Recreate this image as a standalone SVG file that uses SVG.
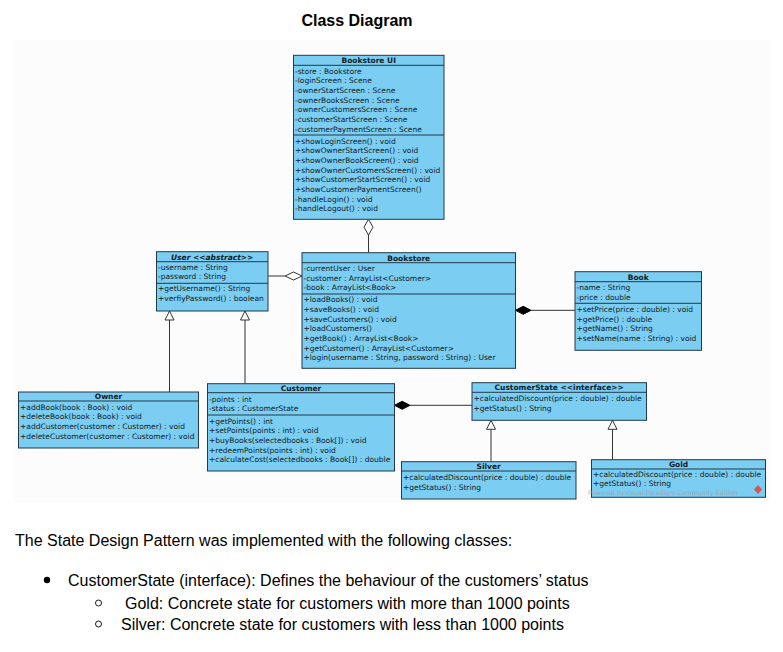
<svg xmlns="http://www.w3.org/2000/svg" width="783" height="652" viewBox="0 0 783 652">
<style>
.box{fill:#7BCDF2;stroke:#23394a;stroke-width:1}
.div{stroke:#23394a;stroke-width:1}
.t{font-family:"DejaVu Sans",sans-serif;font-size:7.5px;fill:#0d1b26}
.h{font-family:"DejaVu Sans",sans-serif;font-size:7.5px;font-weight:bold;fill:#0d1b26;text-anchor:middle}
.ln{stroke:#333;stroke-width:1;fill:none}
.hol{fill:#fff;stroke:#333;stroke-width:1}
.fil{fill:#000;stroke:#000;stroke-width:1}
.p{font-family:"Liberation Sans",Arial,sans-serif;font-size:16px;fill:#000}
</style>
<rect x="0" y="0" width="783" height="652" fill="#fff"/>
<rect x="14" y="40" width="756" height="462" fill="#fcfcfc"/>
<text x="357" y="26" font-family="Liberation Sans,Arial,sans-serif" font-size="16" font-weight="bold" text-anchor="middle">Class Diagram</text>

<g id="connectors">
  <line class="ln" x1="368.5" y1="235" x2="368.5" y2="252.7"/>
  <polygon class="hol" points="368.5,219.3 373,227.2 368.5,235 364,227.2"/>
  <line class="ln" x1="268" y1="276" x2="285" y2="276"/>
  <polygon class="hol" points="285,276 293.5,272 302,276 293.5,280"/>
  <line class="ln" x1="531" y1="310.3" x2="575" y2="310.3"/>
  <polygon class="fil" points="515.5,310.3 523.2,306.3 531,310.3 523.2,314.3"/>
  <line class="ln" x1="169.5" y1="392" x2="169.5" y2="320"/>
  <polygon class="hol" points="169.5,311 174,320 165,320"/>
  <line class="ln" x1="245" y1="383.7" x2="245" y2="320"/>
  <polygon class="hol" points="245,311 249.5,320 240.5,320"/>
  <line class="ln" x1="410" y1="405.3" x2="472" y2="405.3"/>
  <polygon class="fil" points="394.5,405.3 402.2,401.3 410,405.3 402.2,409.3"/>
  <line class="ln" x1="491" y1="461.7" x2="491" y2="429.3"/>
  <polygon class="hol" points="491,420.3 495.5,429.3 486.5,429.3"/>
  <line class="ln" x1="612.5" y1="459.7" x2="612.5" y2="429.3"/>
  <polygon class="hol" points="612.5,420.3 617,429.3 608,429.3"/>
</g>

<g id="bookstore-ui">
  <rect class="box" x="293.5" y="55.3" width="150.5" height="164"/>
  <line class="div" x1="293.5" y1="65.3" x2="444" y2="65.3"/>
  <line class="div" x1="293.5" y1="135" x2="444" y2="135"/>
  <text class="h" x="368.7" y="63">Bookstore UI</text>
  <text class="t" x="295" y="73.7">-store : Bookstore</text>
  <text class="t" x="295" y="83.3">-loginScreen : Scene</text>
  <text class="t" x="295" y="93">-ownerStartScreen : Scene</text>
  <text class="t" x="295" y="102.6">-ownerBooksScreen : Scene</text>
  <text class="t" x="295" y="112.2">-ownerCustomersScreen : Scene</text>
  <text class="t" x="295" y="121.9">-customerStartScreen : Scene</text>
  <text class="t" x="295" y="131.5">-customerPaymentScreen : Scene</text>
  <text class="t" x="295" y="143.7">+showLoginScreen() : void</text>
  <text class="t" x="295" y="153.3">+showOwnerStartScreen() : void</text>
  <text class="t" x="295" y="163">+showOwnerBookScreen() : void</text>
  <text class="t" x="295" y="172.6">+showOwnerCustomersScreen() : void</text>
  <text class="t" x="295" y="182.2">+showCustomerStartScreen() : void</text>
  <text class="t" x="295" y="191.9">+showCustomerPaymentScreen()</text>
  <text class="t" x="295" y="201.5">-handleLogin() : void</text>
  <text class="t" x="295" y="211.1">-handleLogout() : void</text>
</g>

<g id="user">
  <rect class="box" x="156.5" y="251.7" width="111.5" height="59.3"/>
  <line class="div" x1="156.5" y1="261.7" x2="268" y2="261.7"/>
  <line class="div" x1="156.5" y1="283.3" x2="268" y2="283.3"/>
  <text class="h" x="212.2" y="259.5" font-style="italic">User &lt;&lt;abstract&gt;&gt;</text>
  <text class="t" x="158" y="269.7">-username : String</text>
  <text class="t" x="158" y="279.4">-password : String</text>
  <text class="t" x="158" y="291.4">+getUsername() : String</text>
  <text class="t" x="158" y="301">+verfiyPassword() : boolean</text>
</g>

<g id="bookstore">
  <rect class="box" x="302" y="252.7" width="213.5" height="115.6"/>
  <line class="div" x1="302" y1="262.7" x2="515.5" y2="262.7"/>
  <line class="div" x1="302" y1="294" x2="515.5" y2="294"/>
  <text class="h" x="408.7" y="260.5">Bookstore</text>
  <text class="t" x="303.5" y="271">-currentUser : User</text>
  <text class="t" x="303.5" y="280.7">-customer : ArrayList&lt;Customer&gt;</text>
  <text class="t" x="303.5" y="290.3">-book : ArrayList&lt;Book&gt;</text>
  <text class="t" x="303.5" y="302.4">+loadBooks() : void</text>
  <text class="t" x="303.5" y="312">+saveBooks() : void</text>
  <text class="t" x="303.5" y="321.7">+saveCustomers() : void</text>
  <text class="t" x="303.5" y="331.3">+loadCustomers()</text>
  <text class="t" x="303.5" y="340.9">+getBook() : ArrayList&lt;Book&gt;</text>
  <text class="t" x="303.5" y="350.6">+getCustomer() : ArrayList&lt;Customer&gt;</text>
  <text class="t" x="303.5" y="360.2">+login(username : String, password : String) : User</text>
</g>

<g id="book">
  <rect class="box" x="575" y="271.7" width="126.5" height="78.6"/>
  <line class="div" x1="575" y1="281.7" x2="701.5" y2="281.7"/>
  <line class="div" x1="575" y1="303.3" x2="701.5" y2="303.3"/>
  <text class="h" x="638.2" y="279.5">Book</text>
  <text class="t" x="576.5" y="290">-name : String</text>
  <text class="t" x="576.5" y="299.7">-price : double</text>
  <text class="t" x="576.5" y="312">+setPrice(price : double) : void</text>
  <text class="t" x="576.5" y="321.7">+getPrice() : double</text>
  <text class="t" x="576.5" y="331.3">+getName() : String</text>
  <text class="t" x="576.5" y="340.9">+setName(name : String) : void</text>
</g>

<g id="owner">
  <rect class="box" x="18.5" y="392" width="180" height="56"/>
  <line class="div" x1="18.5" y1="401" x2="198.5" y2="401"/>
  <text class="h" x="108.5" y="399.2">Owner</text>
  <text class="t" x="20" y="409.7">+addBook(book : Book) : void</text>
  <text class="t" x="20" y="419.4">+deleteBook(book : Book) : void</text>
  <text class="t" x="20" y="429">+addCustomer(customer : Customer) : void</text>
  <text class="t" x="20" y="438.7">+deleteCustomer(customer : Customer) : void</text>
</g>

<g id="customer">
  <rect class="box" x="207.5" y="383.7" width="187" height="87.3"/>
  <line class="div" x1="207.5" y1="392.7" x2="394.5" y2="392.7"/>
  <line class="div" x1="207.5" y1="415" x2="394.5" y2="415"/>
  <text class="h" x="301" y="390.9">Customer</text>
  <text class="t" x="209" y="401.7">-points : int</text>
  <text class="t" x="209" y="411.4">-status : CustomerState</text>
  <text class="t" x="209" y="423.7">+getPoints() : int</text>
  <text class="t" x="209" y="433.3">+setPoints(points : int) : void</text>
  <text class="t" x="209" y="443">+buyBooks(selectedbooks : Book[]) : void</text>
  <text class="t" x="209" y="452.6">+redeemPoints(points : int) : void</text>
  <text class="t" x="209" y="462.2">+calculateCost(selectedbooks : Book[]) : double</text>
</g>

<g id="customer-state">
  <rect class="box" x="472" y="382.7" width="174.5" height="37.6"/>
  <line class="div" x1="472" y1="392.3" x2="646.5" y2="392.3"/>
  <text class="h" x="559.2" y="390.3">CustomerState &lt;&lt;interface&gt;&gt;</text>
  <text class="t" x="473.5" y="401">+calculatedDiscount(price : double) : double</text>
  <text class="t" x="473.5" y="410.7">+getStatus() : String</text>
</g>

<g id="silver">
  <rect class="box" x="401.5" y="461.7" width="174.5" height="37.3"/>
  <line class="div" x1="401.5" y1="471" x2="576" y2="471"/>
  <text class="h" x="488.7" y="469.2">Silver</text>
  <text class="t" x="403" y="480">+calculatedDiscount(price : double) : double</text>
  <text class="t" x="403" y="489.7">+getStatus() : String</text>
</g>

<g id="gold">
  <rect class="box" x="591.5" y="459.7" width="174" height="37.6"/>
  <line class="div" x1="591.5" y1="469" x2="765.5" y2="469"/>
  <text class="h" x="678.5" y="467.2">Gold</text>
  <text class="t" x="593" y="477">+calculatedDiscount(price : double) : double</text>
  <text class="t" x="593" y="486.2">+getStatus() : String</text>
  <text x="588" y="494.8" font-family="DejaVu Sans,sans-serif" font-size="6.3" fill="#9aa4aa" fill-opacity="0.85">Powered ByVisual Paradigm Community Edition</text>
  <polygon points="758,485 762,489.5 758,494 754,489.5" fill="#d9534f"/>
</g>

<g id="notes">
  <text class="p" x="15" y="545.5">The State Design Pattern was implemented with the following classes:</text>
  <circle cx="47" cy="580" r="3.2" fill="#000"/>
  <text class="p" x="68" y="585.5">CustomerState (interface): Defines the behaviour of the customers’ status</text>
  <circle cx="98.5" cy="603" r="3" fill="none" stroke="#000" stroke-width="0.9"/>
  <text class="p" x="125" y="608.5">Gold: Concrete state for customers with more than 1000 points</text>
  <circle cx="98.5" cy="624" r="3" fill="none" stroke="#000" stroke-width="0.9"/>
  <text class="p" x="121" y="629.5">Silver: Concrete state for customers with less than 1000 points</text>
</g>
</svg>
